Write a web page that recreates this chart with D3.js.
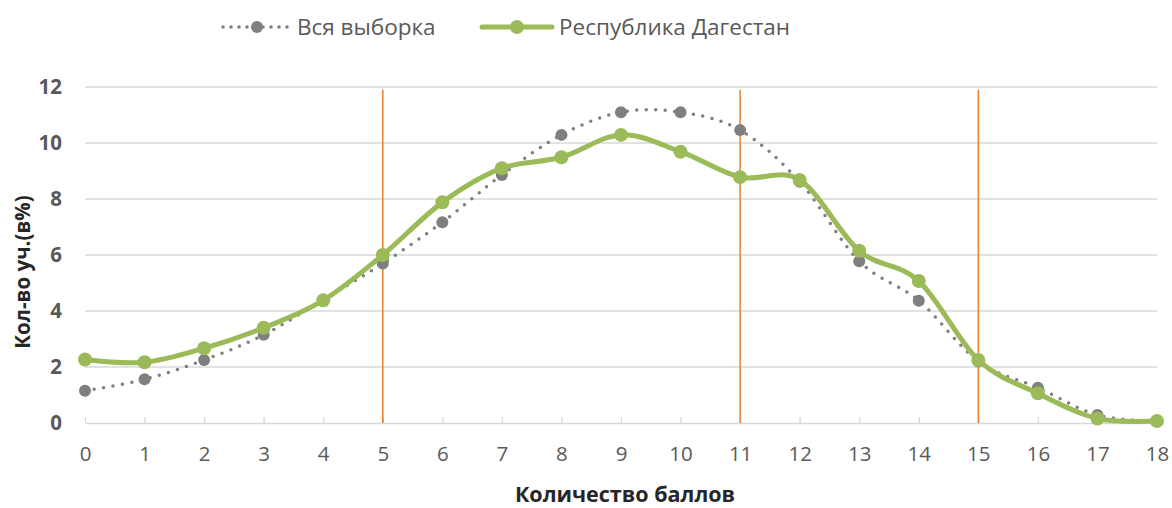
<!DOCTYPE html>
<html><head><meta charset="utf-8">
<script src="https://cdn.jsdelivr.net/npm/d3@7"></script>
<style>body{margin:0;background:#fff;} text{font-family:"Open Sans",sans-serif;}</style>
</head><body><svg id="c" width="1172" height="508"></svg>
<script>
const categories = [0,1,2,3,4,5,6,7,8,9,10,11,12,13,14,15,16,17,18];
const seriesAll = [1.15,1.56,2.25,3.15,4.4,5.7,7.17,8.86,10.29,11.1,11.1,10.46,8.62,5.78,4.37,2.2,1.26,0.29,0.06];
const seriesDag = [2.27,2.17,2.67,3.4,4.38,6.0,7.88,9.1,9.49,10.29,9.69,8.78,8.68,6.15,5.07,2.25,1.06,0.16,0.07];
const yTicks = [0,2,4,6,8,10,12];
const markLines = [5,11,15];
const seriesNames = ["Вся выборка","Республика Дагестан"];
const xTitle = "Количество баллов";
const yTitle = "Кол-во уч.(в%)";

const svg = d3.select("#c");
const x = d3.scaleLinear().domain([0,18]).range([85,1157]);
const y = d3.scaleLinear().domain([0,12]).range([423,87]);
const grey = "#7f7f7f", green = "#9bbb59", txt = "#595959";

// gridlines
svg.append("g").selectAll("line").data(yTicks.filter(d=>d>0)).join("line")
  .attr("x1",x(0)).attr("x2",x(18)).attr("y1",d=>y(d)).attr("y2",d=>y(d))
  .attr("stroke","#d9d9d9").attr("stroke-width",1.3);

// x axis
const xa = svg.append("g").attr("transform",`translate(0,${y(0)})`)
  .call(d3.axisBottom(x).tickValues(categories).tickSize(6).tickSizeOuter(0).tickPadding(8).tickFormat(d3.format("d")));
xa.select(".domain").attr("stroke","#d9d9d9").attr("stroke-width",1.3);
xa.selectAll(".tick line").attr("stroke","#d9d9d9").attr("stroke-width",1.3).attr("y1",-6).attr("y2",0);
xa.selectAll(".tick text").attr("fill",txt).attr("font-size",20.5).attr("font-family","Open Sans").attr("y",31).attr("dy","0.35em");

// y axis labels
const ya = svg.append("g").attr("transform",`translate(${x(0)},0)`)
  .call(d3.axisLeft(y).tickValues(yTicks).tickSize(0).tickPadding(23).tickFormat(d3.format("d")));
ya.select(".domain").remove();
ya.selectAll(".tick text").attr("fill",txt).attr("font-size",20.5).attr("font-weight","bold").attr("font-family","Open Sans");

// orange lines
svg.append("g").selectAll("line").data(markLines).join("line")
  .attr("x1",d=>x(d)).attr("x2",d=>x(d)).attr("y1",y(11.9)).attr("y2",y(0))
  .attr("stroke","#ed7d31").attr("stroke-width",1.5);

const line = d3.line().x((d,i)=>x(categories[i])).y(d=>y(d)).curve(d3.curveCardinal.tension(0));

// grey series
svg.append("path").datum(seriesAll).attr("d",line).attr("fill","none")
  .attr("stroke",grey).attr("stroke-width",3.5).attr("stroke-linecap","round").attr("stroke-dasharray","0 9.5");
svg.append("g").selectAll("circle").data(seriesAll).join("circle")
  .attr("cx",(d,i)=>x(categories[i])).attr("cy",d=>y(d)).attr("r",6).attr("fill",grey);

// green series
svg.append("path").datum(seriesDag).attr("d",line).attr("fill","none")
  .attr("stroke",green).attr("stroke-width",5).attr("stroke-linejoin","round");
svg.append("g").selectAll("circle").data(seriesDag).join("circle")
  .attr("cx",(d,i)=>x(categories[i])).attr("cy",d=>y(d)).attr("r",7).attr("fill",green);

// axis titles
svg.append("text").attr("x",625).attr("y",502).attr("text-anchor","middle")
  .attr("font-size",21.5).attr("font-weight","bold").attr("fill","#262626").text(xTitle);
svg.append("text").attr("transform",`translate(23,272) rotate(-90)`).attr("dy","0.35em").attr("text-anchor","middle")
  .attr("font-size",20.5).attr("font-weight","bold").attr("fill","#262626").text(yTitle);

// legend
const lg = svg.append("g");
lg.append("line").attr("x1",223).attr("x2",291).attr("y1",27).attr("y2",27)
  .attr("stroke",grey).attr("stroke-width",3.5).attr("stroke-linecap","round").attr("stroke-dasharray","0 8");
lg.append("circle").attr("cx",257).attr("cy",27).attr("r",6).attr("fill",grey);
lg.append("text").attr("x",297).attr("y",27).attr("dy","0.35em").attr("font-size",22.5).attr("fill",txt).text(seriesNames[0]);
lg.append("line").attr("x1",482).attr("x2",552).attr("y1",27).attr("y2",27)
  .attr("stroke",green).attr("stroke-width",5).attr("stroke-linecap","round");
lg.append("circle").attr("cx",517).attr("cy",27).attr("r",7).attr("fill",green);
lg.append("text").attr("x",559).attr("y",27).attr("dy","0.35em").attr("font-size",22.5).attr("fill",txt).text(seriesNames[1]);
</script></body></html>
